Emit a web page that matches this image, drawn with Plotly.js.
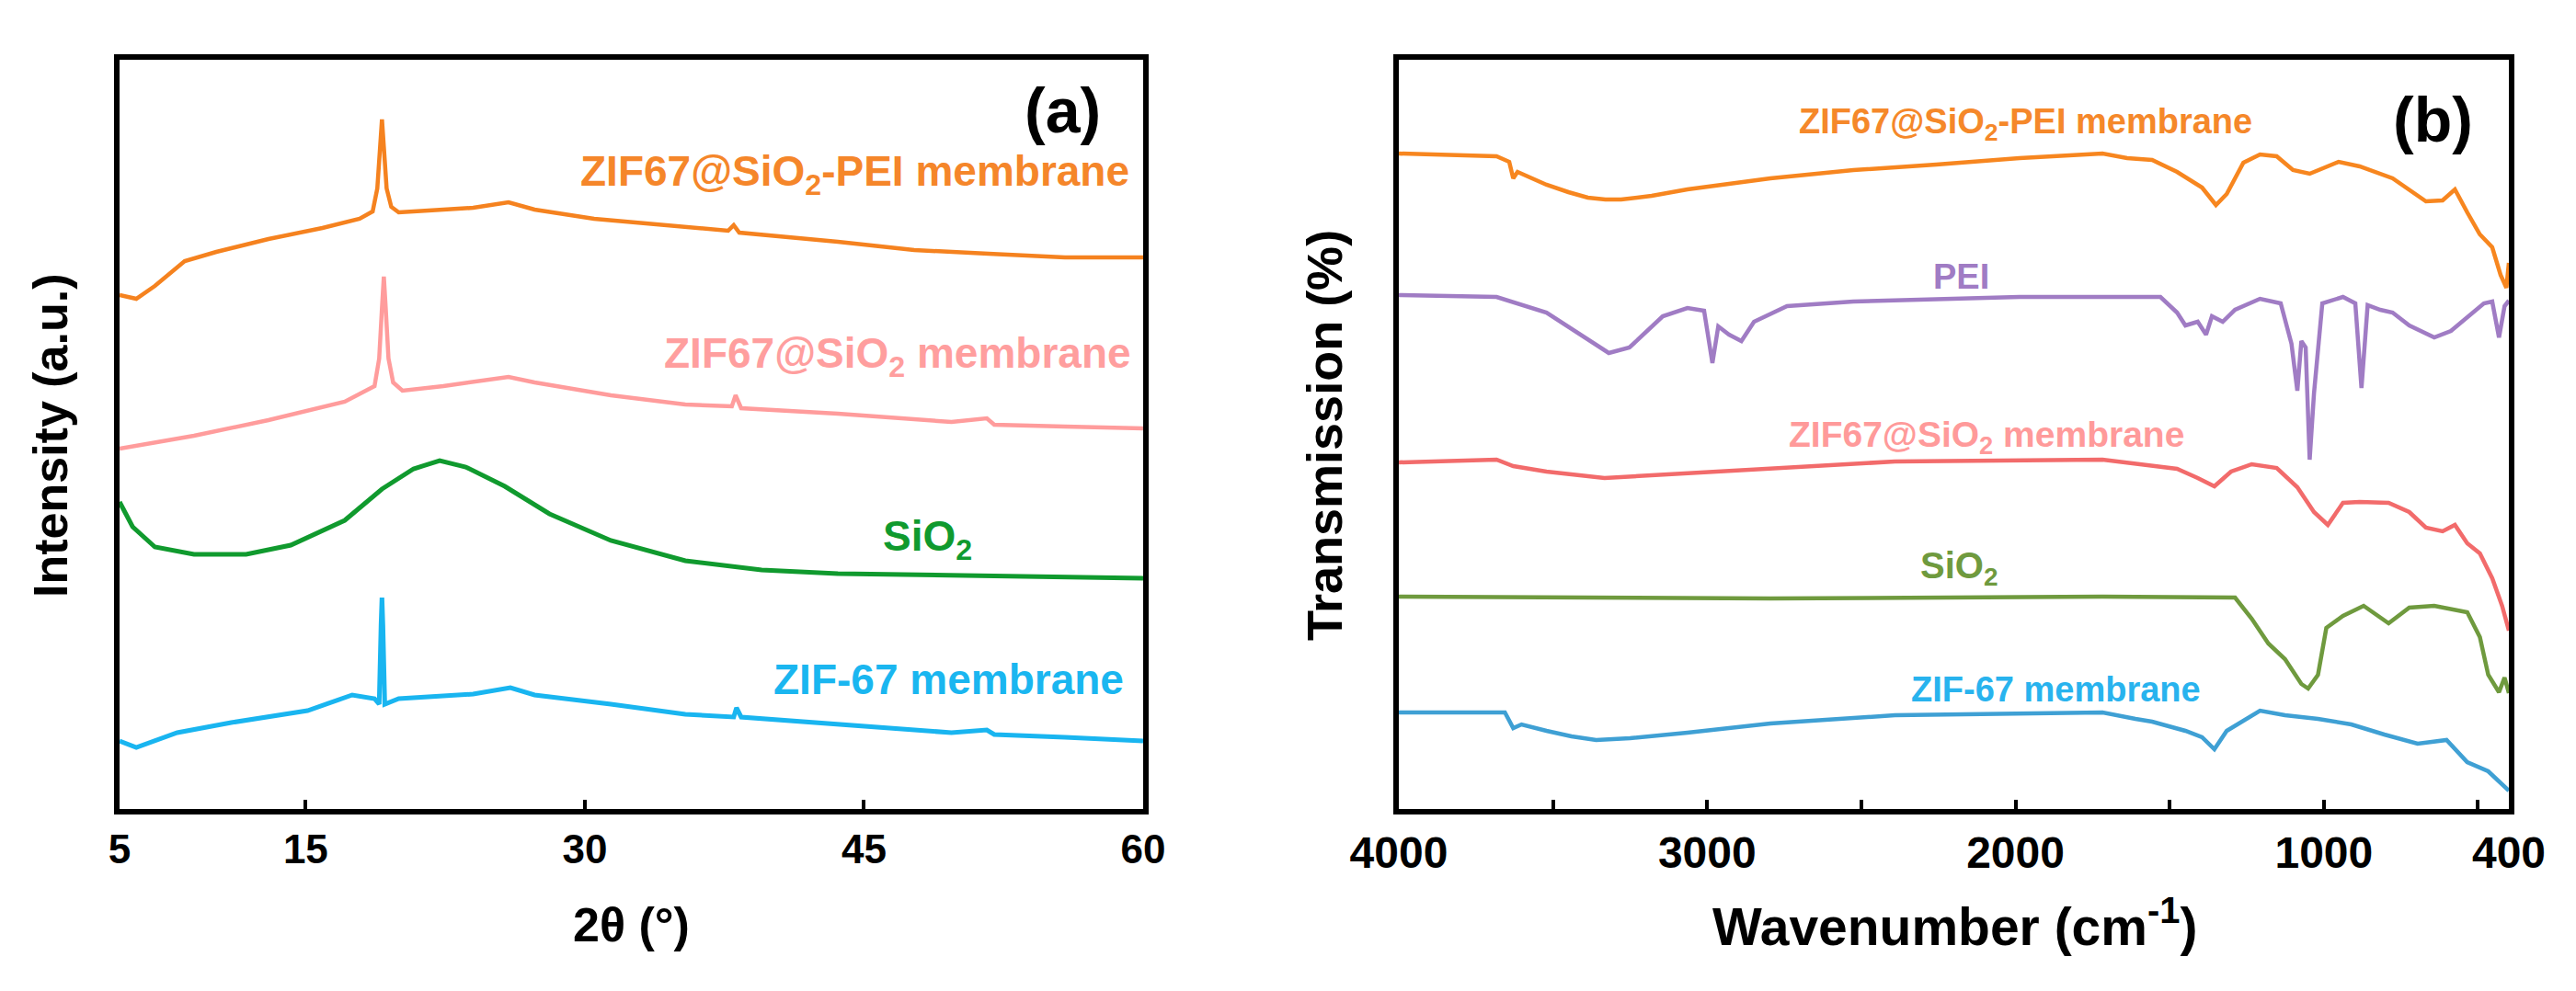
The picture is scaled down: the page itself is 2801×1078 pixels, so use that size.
<!DOCTYPE html>
<html>
<head>
<meta charset="utf-8">
<script src="https://cdn.plot.ly/plotly-3.0.1.min.js"></script>
<style>
  html, body { margin: 0; padding: 0; background: #fff; }
  #chart { width: 2801px; height: 1078px; }
</style>
</head>
<body>
<div id="chart"></div>
<script>
// (a) XRD patterns: 2theta (deg) and stacked intensity (a.u.)
const peiTheta = [5.0, 5.9, 6.9, 8.5, 10.2, 13.0, 15.9, 17.9, 18.6, 18.85, 19.0, 19.1, 19.2, 19.35, 19.6, 20.0, 21.6, 24.0, 25.9, 27.3, 30.5, 33.4, 37.7, 38.0, 38.3, 43.6, 47.7, 51.7, 55.8, 60];
const peiXrd = [559, 555, 569, 596, 606, 620, 632, 642, 650, 675, 720, 750, 720, 675, 655, 649, 651, 654, 660, 652, 642, 637, 629, 635, 627, 617, 608, 604, 600, 600];

const sioZifTheta = [5.0, 9.0, 13.0, 17.1, 18.7, 18.95, 19.1, 19.2, 19.3, 19.45, 19.7, 20.2, 22.4, 25.9, 27.3, 31.4, 35.4, 37.9, 38.1, 38.4, 43.6, 49.7, 51.6, 52.0, 55.8, 60];
const sioZifXrd = [392, 406, 423, 443, 460, 490, 545, 579, 545, 490, 464, 455, 460, 470, 464, 450, 440, 438, 450, 436, 430, 421, 425, 418, 416, 414];

const sio2Theta = [5.0, 5.7, 6.9, 9.0, 11.8, 14.2, 17.1, 19.1, 20.8, 22.2, 23.6, 25.7, 28.1, 31.4, 35.4, 39.5, 43.6, 51.7, 60];
const sio2Xrd = [334, 307, 285, 277, 277, 287, 314, 348, 370, 379, 372, 351, 321, 292, 270, 260, 256, 253, 251];

const zifTheta = [5.0, 5.9, 8.1, 11.0, 15.1, 17.5, 18.7, 18.95, 19.05, 19.1, 19.15, 19.25, 20.0, 21.6, 24.0, 26.0, 27.3, 31.4, 35.4, 38.0, 38.15, 38.4, 43.6, 49.7, 51.6, 52.0, 55.8, 60];
const zifXrd = [74, 67, 83, 94, 107, 124, 120, 114, 200, 230, 200, 114, 120, 122, 125, 132, 124, 114, 103, 100, 110, 100, 92, 83, 86, 81, 78, 74];

// (b) FTIR spectra: wavenumber (cm-1) and stacked transmission
const peiMemWn = [4000, 3683, 3642, 3629, 3615, 3521, 3450, 3387, 3330, 3279, 3180, 3064, 2795, 2526, 2257, 1987, 1718, 1638, 1557, 1476, 1395, 1350, 1315, 1261, 1207, 1153, 1100, 1046, 952, 884, 777, 669, 615, 575, 535, 494, 454, 427, 408, 400];
const peiMemFt = [713, 710, 704, 686, 693, 679, 671, 665, 663, 663, 667, 674, 686, 695, 701, 708, 713, 708, 706, 693, 676, 657, 669, 703, 712, 710, 695, 691, 704, 699, 686, 661, 662, 674, 649, 625, 611, 581, 567, 594];

const peiWn = [4000, 3683, 3521, 3413, 3319, 3252, 3144, 3064, 3010, 2983, 2964, 2929, 2889, 2848, 2741, 2526, 1987, 1530, 1476, 1449, 1409, 1382, 1363, 1328, 1288, 1207, 1140, 1105, 1086, 1073, 1059, 1046, 1032, 1005, 938, 898, 878, 858, 817, 777, 723, 642, 588, 481, 454, 432, 414, 400];
const peiFt = [559, 557, 540, 516, 496, 502, 536, 545, 542, 485, 525, 516, 509, 530, 547, 552, 557, 557, 540, 526, 530, 516, 536, 530, 543, 555, 550, 506, 455, 509, 502, 380, 452, 550, 557, 550, 458, 548, 543, 540, 526, 513, 520, 550, 552, 513, 547, 553];

const sioZifWn = [4000, 3683, 3629, 3521, 3333, 3064, 2795, 2391, 1718, 1557, 1476, 1409, 1355, 1301, 1234, 1153, 1086, 1032, 987, 938, 884, 790, 723, 669, 615, 575, 535, 494, 454, 422, 400];
const sioZifFt = [377, 380, 373, 367, 360, 365, 371, 378, 380, 373, 370, 360, 351, 367, 375, 371, 350, 323, 309, 333, 334, 333, 323, 306, 302, 309, 289, 278, 251, 221, 194];

const sio2Wn = [4000, 2795, 1718, 1288, 1234, 1180, 1126, 1073, 1051, 1019, 992, 938, 871, 804, 790, 723, 642, 535, 494, 467, 432, 414, 400];
const sio2Ft = [231, 229, 231, 230, 207, 180, 163, 136, 131, 146, 197, 210, 221, 205, 202, 219, 221, 214, 187, 146, 127, 143, 126];

const zifWn = [4000, 3656, 3629, 3602, 3521, 3440, 3360, 3250, 3064, 2795, 2391, 1718, 1611, 1557, 1449, 1395, 1355, 1315, 1207, 1126, 1019, 911, 804, 696, 602, 535, 467, 400];
const zifFt = [105, 105, 88, 92, 85, 79, 75, 77, 83, 93, 102, 105, 98, 95, 85, 78, 65, 85, 107, 102, 98, 92, 81, 71, 75, 51, 41, 20];

// axis ticks
const xrdTicks = [5, 15, 30, 45, 60];
const irTicks = [4000, 3000, 2000, 1000, 400];
const irMinorTicks = [3500, 2500, 1500, 500];

const W = 2801, H = 1078;
const px = (x) => x / W;
const py = (y) => 1 - y / H;
const FONT = 'Liberation Sans, Arial, sans-serif';

function line(x, y, color, width, xa, ya) {
  return {
    type: 'scatter', mode: 'lines', x: x, y: y,
    xaxis: xa, yaxis: ya,
    line: {color: color, width: width},
    hoverinfo: 'skip', showlegend: false
  };
}

const data = [
  line(peiTheta, peiXrd, '#F5821F', 4.5, 'x', 'y'),
  line(sioZifTheta, sioZifXrd, '#FF9C9C', 4.5, 'x', 'y'),
  line(sio2Theta, sio2Xrd, '#109A2E', 5, 'x', 'y'),
  line(zifTheta, zifXrd, '#19B5F0', 5, 'x', 'y'),
  line(peiMemWn, peiMemFt, '#F7861F', 4.5, 'x2', 'y2'),
  line(peiWn, peiFt, '#A07CC4', 4.5, 'x2', 'y2'),
  line(sioZifWn, sioZifFt, '#F26B6B', 4.5, 'x2', 'y2'),
  line(sio2Wn, sio2Ft, '#6F9A3E', 4.5, 'x2', 'y2'),
  line(zifWn, zifFt, '#3FA0D4', 4.5, 'x2', 'y2')
];

const frame = {
  showline: true, linecolor: '#000', linewidth: 6, mirror: true,
  showgrid: false, zeroline: false
};

function label(text, x, y, size, color, anchor) {
  return {
    text: text, xref: 'paper', yref: 'paper', x: px(x), y: py(y),
    xanchor: anchor || 'center', yanchor: 'middle', showarrow: false,
    font: {family: FONT, size: size, color: color, weight: 'bold'}
  };
}

const layout = {
  width: W, height: H,
  margin: {l: 0, r: 0, t: 0, b: 0},
  paper_bgcolor: '#fff', plot_bgcolor: '#fff',
  showlegend: false,
  xaxis: Object.assign({}, frame, {
    domain: [px(130), px(1243)], range: [5, 60], anchor: 'y',
    ticks: 'inside', ticklen: 10, tickwidth: 4, tickcolor: '#000',
    tickvals: xrdTicks,
    tickfont: {family: FONT, size: 44, color: '#000', weight: 'bold'}
  }),
  yaxis: Object.assign({}, frame, {
    domain: [py(880), py(65)], range: [0, 815], anchor: 'x',
    ticks: '', showticklabels: false
  }),
  xaxis2: Object.assign({}, frame, {
    domain: [px(1521), px(2728)], range: [4000, 400], anchor: 'y2',
    ticks: 'inside', ticklen: 10, tickwidth: 4, tickcolor: '#000',
    tickvals: irTicks,
    minor: {tickvals: irMinorTicks, ticks: 'inside', ticklen: 10, tickwidth: 4, tickcolor: '#000', showgrid: false},
    tickfont: {family: FONT, size: 48, color: '#000', weight: 'bold'}
  }),
  yaxis2: Object.assign({}, frame, {
    domain: [py(880), py(65)], range: [0, 815], anchor: 'x2',
    ticks: '', showticklabels: false
  }),
  annotations: [
    // panel (a)
    label('(a)', 1155, 120, 68, '#000'),
    label('ZIF67@SiO<sub>2</sub>-PEI membrane', 1230, 190, 46, '#F5862A', 'right'),
    label('ZIF67@SiO<sub>2</sub> membrane', 1232, 387, 46, '#FF9E9E', 'right'),
    label('SiO<sub>2</sub>', 1059, 586, 46, '#109A2E', 'right'),
    label('ZIF-67 membrane', 1224, 739, 46, '#1AB6F0', 'right'),
    label('2θ (°)', 686, 1006, 52, '#000'),
    Object.assign(label('Intensity (a.u.)', 55, 474, 52, '#000'), {textangle: -90}),
    // panel (b)
    label('(b)', 2645, 130, 68, '#000'),
    label('ZIF67@SiO<sub>2</sub>-PEI membrane', 2202, 135, 38, '#F5882A'),
    label('PEI', 2132, 301, 38, '#A07CC4'),
    label('ZIF67@SiO<sub>2</sub> membrane', 2160, 476, 39, '#FF9A9A'),
    label('SiO<sub>2</sub>', 2130, 618, 40, '#6F9A3E'),
    label('ZIF-67 membrane', 2235, 750, 38, '#28B3EE'),
    label('Wavenumber (cm<sup>-1</sup>)', 2125, 1004, 57, '#000'),
    Object.assign(label('Transmission (%)', 1440, 473, 54, '#000'), {textangle: -90})
  ]
};

Plotly.newPlot('chart', data, layout, {displayModeBar: false, staticPlot: true});
</script>
</body>
</html>
